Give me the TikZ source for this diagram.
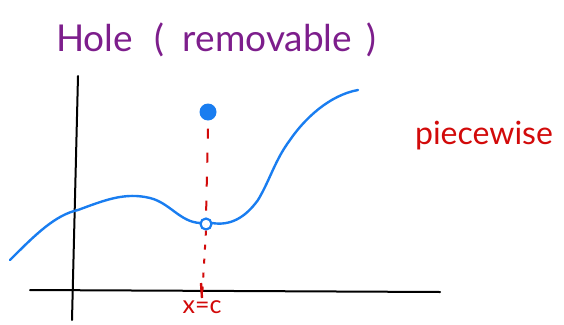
\documentclass[tikz,border=0pt]{standalone}
\usepackage{fontspec}
\setmainfont{Lato}
\usepackage{xcolor}
\usetikzlibrary{positioning}
\definecolor{holepurple}{RGB}{125,30,140}
\definecolor{curveblue}{RGB}{25,125,240}
\definecolor{markred}{RGB}{210,10,10}

\begin{document}
\begin{tikzpicture}[x=1pt, y=-1pt, every node/.style={inner sep=0pt}]
\useasboundingbox (0,0) rectangle (564,324);
% axes
\draw[line width=2pt, line cap=round] (78,76) -- (72,320);
\draw[line width=2pt, line cap=round] (30,290) -- (440,292);
% curve through the hole
\coordinate (hole) at (206,224);
\draw[curveblue, line width=2.4pt, line cap=round] (10,260) .. controls (35,235) and (55,215) .. (78,210)
  .. controls (105,200) and (125,192) .. (150,198)
  .. controls (170,203) and (180,222) .. (200,223);
\draw[curveblue, line width=2.4pt, line cap=round] (212,223) .. controls (230,226) and (245,218) .. (258,200)
  .. controls (270,180) and (275,160) .. (290,140)
  .. controls (305,118) and (330,95) .. (358,90);
\node[draw=curveblue, line width=2.2pt, circle, minimum size=11pt, fill=white] (open) at (hole) {};
\node[circle, fill=curveblue, minimum size=17pt] (dot) at (208,112) {};
% x = c
\draw[markred, line width=2pt, dash pattern=on 10pt off 14pt] (dot.south) ++(0,8) -- (open.north);
\coordinate (tick) at (202,298);
\draw[markred, line width=2pt, dash pattern=on 5pt off 9pt] (open.south) -- (tick);
\draw[markred, line width=2.4pt] (201,283) -- (tick);
\node[markred, font=\fontsize{25}{25}\selectfont, below=2pt of tick] (xc) {x=c};
% labels
\node[holepurple, font=\fontsize{37}{37}\selectfont] (title) at (216,40) {Hole\hspace{22pt}(\hspace{18pt}removable\hspace{14pt})};
\node[markred, font=\fontsize{32}{32}\selectfont] (piece) at (484,136) {piecewise};
\end{tikzpicture}
\end{document}
